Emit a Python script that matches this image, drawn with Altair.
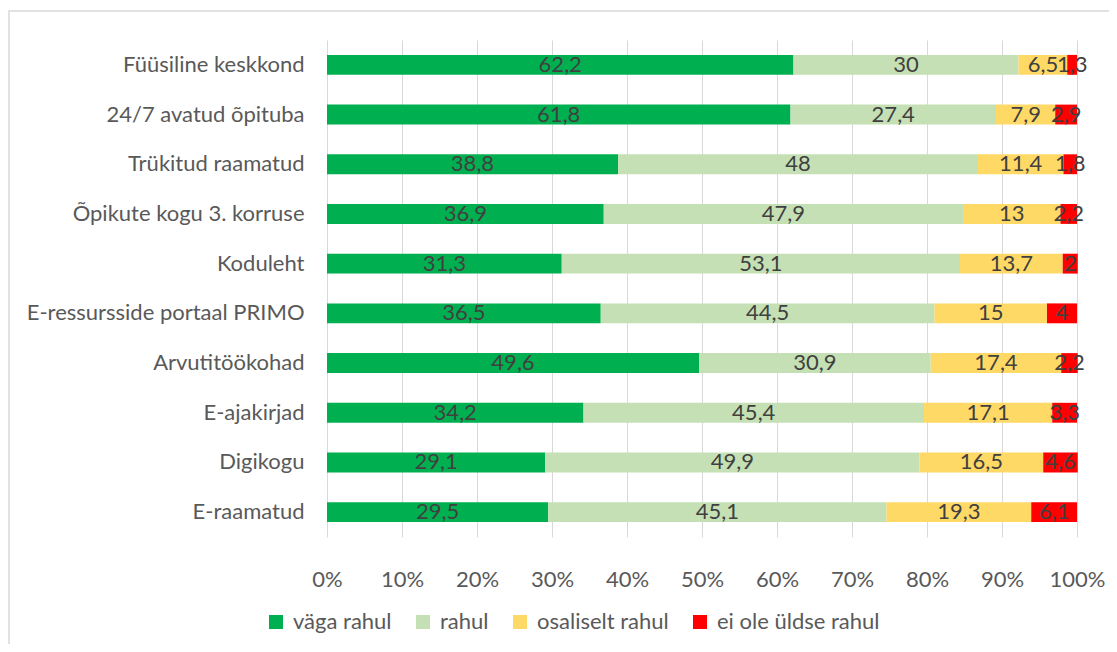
import altair as alt
import pandas as pd

categories = ["Füüsiline keskkond", "24/7 avatud õpituba", "Trükitud raamatud",
              "Õpikute kogu 3. korruse", "Koduleht", "E-ressursside portaal PRIMO",
              "Arvutitöökohad", "E-ajakirjad", "Digikogu", "E-raamatud"]
series = ["väga rahul", "rahul", "osaliselt rahul", "ei ole üldse rahul"]
vaga_rahul = [62.2, 61.8, 38.8, 36.9, 31.3, 36.5, 49.6, 34.2, 29.1, 29.5]
rahul = [30, 27.4, 48, 47.9, 53.1, 44.5, 30.9, 45.4, 49.9, 45.1]
osaliselt = [6.5, 7.9, 11.4, 13, 13.7, 15, 17.4, 17.1, 16.5, 19.3]
ei_ole = [1.3, 2.9, 1.8, 2.2, 2, 4, 2.2, 3.3, 4.6, 6.1]
colors = ["#00B050", "#C5E0B4", "#FFD966", "#FF0000"]

rows = []
for s_i, (s, vals) in enumerate(zip(series, [vaga_rahul, rahul, osaliselt, ei_ole])):
    for c, v in zip(categories, vals):
        rows.append({"cat": c, "series": s, "order": s_i, "value": v})
df = pd.DataFrame(rows)

FONT = "Lato"
FS = 22

base = alt.Chart(df).transform_stack(
    stack="value", groupby=["cat"], as_=["x0", "x1"],
    sort=[alt.SortField("order", order="ascending")]
).transform_calculate(
    mid="(datum.x0 + datum.x1) / 2",
    label="replace(toString(datum.value), '.', ',')"
)

y_enc = alt.Y("cat:N", sort=categories, title=None,
              scale=alt.Scale(paddingInner=0.6, paddingOuter=0.3),
              axis=alt.Axis(domain=False, ticks=False, labelFontSize=FS,
                            labelColor="#595959", labelFont=FONT, labelPadding=23,
                            labelLimit=400))

bars = base.mark_bar().encode(
    x=alt.X("x0:Q", title=None, scale=alt.Scale(domain=[0, 100], nice=False),
            axis=alt.Axis(values=list(range(0, 101, 10)), labelExpr="datum.value + '%'",
                          domain=False, ticks=False, grid=True, gridColor="#D9D9D9",
                          labelFontSize=FS, labelColor="#595959", labelFont=FONT,
                          labelPadding=32, labelFlush=False, labelOverlap=False)),
    x2="x1:Q",
    y=y_enc,
    color=alt.Color("series:N", sort=series,
                    scale=alt.Scale(domain=series, range=colors),
                    legend=alt.Legend(title=None, orient="none", direction="horizontal",
                                      legendX=-62, legendY=571, symbolType="square",
                                      symbolSize=196, symbolStrokeWidth=0,
                                      labelFontSize=FS, labelColor="#595959",
                                      labelFont=FONT, columnPadding=20, labelOffset=6,
                                      labelLimit=300)),
    order=alt.Order("order:Q"),
)

text = base.mark_text(fontSize=FS, color="#404040", font=FONT).encode(
    x="mid:Q",
    y=alt.Y("cat:N", sort=categories),
    text="label:N",
)

frame = alt.Chart(pd.DataFrame({"f": [0]})).mark_rect(
    fill=None, stroke="#D9D9D9", strokeWidth=1.5, clip=False
).encode(
    x=alt.value(-318), x2=alt.value(1000), y=alt.value(-29), y2=alt.value(700)
)

chart = (frame + bars + text).properties(
    width=750, height=497,
    padding={"left": 319, "top": 32, "right": 32, "bottom": 107},
    autosize=alt.AutoSizeParams(type="none"),
    background="white",
).configure_view(stroke=None)

chart.save("out.html", embed_options={"renderer": "svg", "actions": False})
